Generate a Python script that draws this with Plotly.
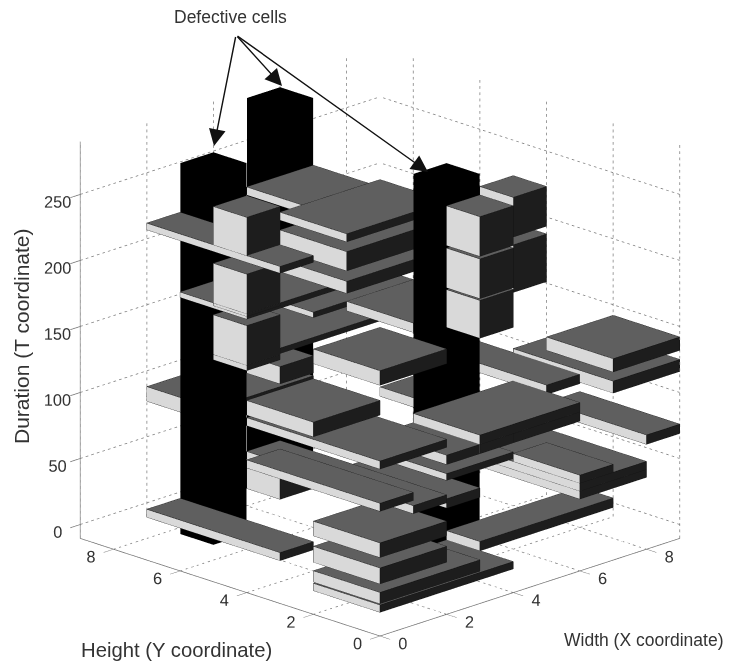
import plotly.graph_objects as go

# scheduled tasks: x0, y0, dx, dy, t0, t1
task_x0 = [0,0,0,0,0,4,0,0,0,0,0,0,1,0,0,0,3,2,2,2,2,4,4,4,6,6,7,7,8,6,6,6,2,2,2,1,1,2,3,4,4,3,2,5,6]
task_y0 = [0,0,0,0,3,1,3,4,4,4,4,4,1,2,0,0,0,0,0,0,3,1,1,1,2,2,0,0,0,0,0,0,3,3,5,4,0,5,5,3,5,0,7,3,1]
task_dx = [4,3,2,2,1,4,1,1,1,1,1,3,2,2,2,1,3,1,2,2,3,1,1,1,1,1,2,2,1,1,2,2,3,3,1,1,1,3,3,2,2,3,3,1,1]
task_dy = [2,2,2,2,4,1,4,1,1,1,1,2,2,2,4,4,2,3,2,2,2,1,1,1,1,1,2,3,3,2,3,3,2,2,1,1,5,2,1,2,3,2,2,2,3]
task_t0 = [7.5,14,29,49,22,13,239.7,244.7,198.7,161.7,157.7,196.7,163,124,116,84,110,70,103,91,247,236,204,174,226,184,132,116,69,56,50,44,225,208,123,52,74,146,165,162,225,103,77,89,115]
task_t1 = [13,22.5,41,60,28,20,244.7,273.7,230.7,191.7,161.7,200.7,174,135,122,90,117,77,110,96,253,266,234,202.6,256,220,142,125,76,62,56,50,239.5,217,136,72,80,150,169,169,231,110,88,96,122]

# defective cells
defect_x = [1,5,4]
defect_y = [6,8,2]
defect_t0 = [1,1,1]
defect_t1 = [282,282,282]

x_ticks = [0,2,4,6,8]
y_ticks = [0,2,4,6,8]
t_ticks = [0,50,100,150,200,250]
x_max, y_max, t_min, t_max = 9, 9, -10.5, 290

TOP, LIGHT, DARK, BLACK = "#5f5f5f", "#d9d9d9", "#1d1d1d", "#000000"

vx, vy, vz, ii, jj, kk, fc = [], [], [], [], [], [], []
ex, ey, ez = [], [], []

def quad(p, col):
    n = len(vx)
    for a in p:
        vx.append(a[0]); vy.append(a[1]); vz.append(a[2])
    ii.extend([n, n]); jj.extend([n+1, n+2]); kk.extend([n+2, n+3])
    fc.extend([col, col])

def edge(a, b):
    ex.extend([a[0], b[0], None]); ey.extend([a[1], b[1], None]); ez.extend([a[2], b[2], None])

def box(x0, x1, y0, y1, t0, t1, top, left, right, edges=True):
    quad([(x0,y0,t1),(x1,y0,t1),(x1,y1,t1),(x0,y1,t1)], top)
    quad([(x0,y0,t0),(x0,y1,t0),(x0,y1,t1),(x0,y0,t1)], left)
    quad([(x0,y0,t0),(x1,y0,t0),(x1,y0,t1),(x0,y0,t1)], right)
    if edges:
        for a, b in [((x0,y0,t1),(x1,y0,t1)),((x1,y0,t1),(x1,y1,t1)),((x1,y1,t1),(x0,y1,t1)),((x0,y1,t1),(x0,y0,t1)),
                     ((x0,y0,t0),(x1,y0,t0)),((x0,y0,t0),(x0,y1,t0)),((x0,y0,t0),(x0,y0,t1)),
                     ((x1,y0,t0),(x1,y0,t1)),((x0,y1,t0),(x0,y1,t1))]:
            edge(a, b)

for x0, y0, dx, dy, t0, t1 in zip(task_x0, task_y0, task_dx, task_dy, task_t0, task_t1):
    box(x0, x0+dx, y0, y0+dy, t0, t1, TOP, LIGHT, DARK)

inset = 0.004
for x0, y0, t0, t1 in zip(defect_x, defect_y, defect_t0, defect_t1):
    box(x0+inset, x0+1-inset, y0+inset, y0+1-inset, t0, t1, BLACK, BLACK, BLACK, edges=False)

# dotted grid on the two back walls and the floor
gx, gy, gz = [], [], []
def gline(a, b, n):
    for i in range(n):
        f0, f1 = i/n, (i+0.45)/n
        for lst, p, q in ((gx, a[0], b[0]), (gy, a[1], b[1]), (gz, a[2], b[2])):
            lst.extend([p+(q-p)*f0, p+(q-p)*f1, None])
NV, NH = 64, 54
for v in x_ticks:
    gline((v,y_max,t_min),(v,y_max,t_max), NV); gline((v,0,t_min),(v,y_max,t_min), NH)
for v in y_ticks:
    gline((x_max,v,t_min),(x_max,v,t_max), NV); gline((0,v,t_min),(x_max,v,t_min), NH)
for v in t_ticks:
    gline((0,y_max,v),(x_max,y_max,v), NH); gline((x_max,0,v),(x_max,y_max,v), NH)

fig = go.Figure()
fig.add_trace(go.Scatter3d(x=gx, y=gy, z=gz, mode="lines", line=dict(color="#7c7c7c", width=1.5),
                           hoverinfo="skip", showlegend=False))
fig.add_trace(go.Mesh3d(x=vx, y=vy, z=vz, i=ii, j=jj, k=kk, facecolor=fc, flatshading=True,
                        lighting=dict(ambient=1, diffuse=0, specular=0, fresnel=0, roughness=1),
                        hoverinfo="skip", showscale=False))
fig.add_trace(go.Scatter3d(x=ex, y=ey, z=ez, mode="lines", line=dict(color="#111111", width=1),
                           hoverinfo="skip", showlegend=False))

ax = dict(showgrid=False, showbackground=False, zeroline=False, showspikes=False, showline=True,
          linecolor="#707070", linewidth=1.5, ticks="outside", ticklen=14, tickcolor="#707070", tickwidth=1.5, tickangle=0,
          tickfont=dict(family="Liberation Sans", size=14, color="#333333"), title=dict(text=""))

fig.update_layout(
    width=735, height=671, margin=dict(l=0, r=0, t=0, b=0), paper_bgcolor="white", showlegend=False,
    scene=dict(
        domain=dict(x=[9/735, 1], y=[7/671, 1]),
        xaxis=dict(ax, range=[0, x_max], tickvals=x_ticks),
        yaxis=dict(ax, range=[0, y_max], tickvals=y_ticks),
        zaxis=dict(ax, range=[t_min, t_max], tickvals=t_ticks),
        aspectmode="manual", aspectratio=dict(x=1.277, y=1.277, z=1.264),
        camera=dict(projection=dict(type="orthographic"), eye=dict(x=-1.014, y=-1.014, z=0.494),
                    center=dict(x=0, y=0, z=0), up=dict(x=0, y=0, z=1)),
    ),
)

# the page body adds an 8 px offset to the figure
def px(x): return (x-8)/735
def py(y): return 1-(y-8)/671
txt = dict(family="Liberation Sans", color="#333333")
for s, x, y, size, ang in [("Defective cells", 230, 17, 17.5, 0), ("Height (Y coordinate)", 176, 650, 20.3, 0),
                           ("Width (X coordinate)", 644, 640, 17.5, 0), ("Duration (T coordinate)", 22, 336, 21, -90)]:
    fig.add_annotation(text=s, x=px(x), y=py(y), xref="paper", yref="paper", showarrow=False,
                       xanchor="center", yanchor="middle", font=dict(txt, size=size), textangle=ang)
for hx, hy in [(214, 146), (282, 86), (428, 172)]:
    fig.add_annotation(text=" ", x=px(hx), y=py(hy), xref="paper", yref="paper", showarrow=True,
                       xanchor="center", yanchor="middle",
                       ax=236-hx, ay=35-hy, arrowhead=2, arrowsize=2.4, arrowwidth=1.4, arrowcolor="#111111",
                       font=dict(size=1))

fig.write_html("out.html", config=dict(displayModeBar=False))
